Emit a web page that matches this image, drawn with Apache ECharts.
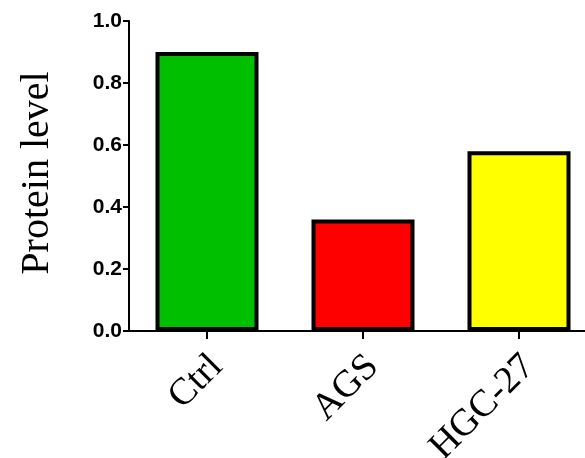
<!DOCTYPE html>
<html>
<head>
<meta charset="utf-8">
<script src="https://cdn.jsdelivr.net/npm/echarts@6/dist/echarts.min.js"></script>
<style>
html,body{margin:0;padding:0;background:#fff;overflow:hidden;}
#chart{width:585px;height:458px;}
</style>
</head>
<body>
<div id="chart"></div>
<script>
var categories = ['Ctrl', 'AGS', 'HGC-27'];
var values = [0.90, 0.36, 0.58];
var barColors = ['#00BF00', '#FF0000', '#FFFF00'];
var yTicks = [0.0, 0.2, 0.4, 0.6, 0.8, 1.0];
var yTitle = 'Protein level';

var chart = echarts.init(document.getElementById('chart'), null, {renderer: 'canvas', width: 585, height: 458});
chart.setOption({
  animation: false,
  backgroundColor: '#ffffff',
  grid: {left: 129, top: 21, width: 468, height: 310, containLabel: false, outerBoundsMode: 'none'},
  xAxis: {
    type: 'category',
    data: categories,
    axisLine: {lineStyle: {color: '#000', width: 2}},
    axisTick: {show: true, alignWithLabel: true, length: 8, lineStyle: {color: '#000', width: 2}},
    axisLabel: {
      rotate: 45, margin: 20, color: '#000',
      verticalAlign: 'top', lineHeight: 28,
      fontFamily: 'Liberation Serif', fontSize: 38
    }
  },
  yAxis: {
    type: 'value',
    min: yTicks[0], max: yTicks[yTicks.length - 1], interval: 0.2,
    name: yTitle,
    nameLocation: 'middle',
    nameGap: 72,
    nameTextStyle: {fontFamily: 'Liberation Serif', fontSize: 40, color: '#000', padding: [0, 0, 0, 6]},
    axisLine: {show: true, lineStyle: {color: '#000', width: 2}},
    axisTick: {show: true, length: 6, lineStyle: {color: '#000', width: 2}},
    splitLine: {show: false},
    axisLabel: {
      margin: 7, color: '#000', fontWeight: 'bold',
      fontFamily: 'Liberation Sans', fontSize: 21,
      formatter: function (v) { return v.toFixed(1); }
    }
  },
  series: [{
    type: 'bar',
    barWidth: 103,
    data: values.map(function (v, i) {
      return {value: v, itemStyle: {color: barColors[i], borderColor: '#000', borderWidth: 4}};
    })
  }]
});
</script>
</body>
</html>
